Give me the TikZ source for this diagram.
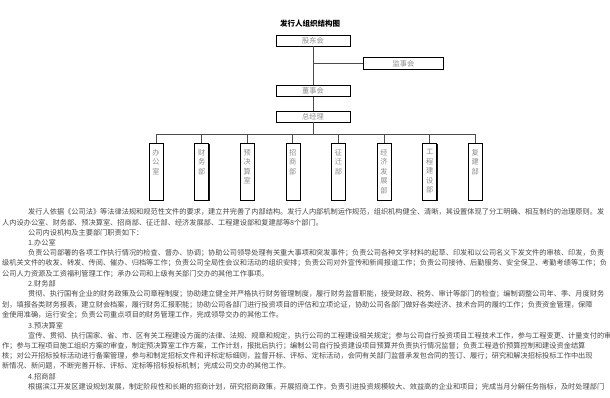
\documentclass[tikz,border=0pt]{standalone}
\usepackage{fontspec}
\setmainfont{Noto Sans CJK SC}
\usetikzlibrary{positioning, shadows}

\newcommand{\vlabel}[1]{\parbox[t][45pt][t]{8pt}{\centering\fontsize{7.2}{9.5}\selectfont #1}}

\begin{document}
\begin{tikzpicture}[x=1pt, y=-1pt,
    % Define styles
    orgbox/.style={rectangle, draw=black, line width=0.6pt, fill=white, drop shadow={shadow xshift=0.9pt, shadow yshift=-0.9pt, opacity=0.9, fill=black}, inner sep=0pt, font=\fontsize{7.2}{8}\selectfont, text=black!45},
    topbox/.style={orgbox, minimum width=74pt, minimum height=11pt},
    dept/.style={orgbox, minimum width=14pt, minimum height=57pt, anchor=north},
    link/.style={draw=black!70, line width=0.8pt},
    para/.style={anchor=west, inner sep=0pt, font=\fontsize{7.2}{8}\selectfont, text=black!72},
    ]
    \useasboundingbox (0,0) rectangle (610,398);
    \clip (0,0) rectangle (610,398);

    % Title
    \node[font=\fontsize{7.5}{8}\selectfont\bfseries] (title) at (310,23.5) {发行人组织结构图};

    % Top of the chart
    \node[topbox] (gdh) at (313,40.5) {股东会};
    \node[topbox, below=39pt of gdh] (dsh) {董事会};
    \node[topbox, below=14pt of dsh] (zjl) {总经理};
    \node[topbox, minimum width=80pt, minimum height=12pt] (jsh) at (403.5,63.5) {监事会};

    % Departments
    \node[dept] (bgs) at (156,143) {\vlabel{办\\公\\室}};
    \node[dept, right=31pt of bgs] (cwb) {\vlabel{财\\务\\部}};
    \node[dept, right=31pt of cwb] (ysj) {\vlabel{预\\决\\算\\室}};
    \node[dept, right=31pt of ysj] (zsb) {\vlabel{招\\商\\部}};
    \node[dept, right=31pt of zsb] (zqb) {\vlabel{征\\迁\\部}};
    \node[dept, right=31pt of zqb] (jjf) {\vlabel{经\\济\\发\\展\\部}};
    \node[dept, right=31pt of jjf] (gcj) {\vlabel{工\\程\\建\\设\\部}};
    \node[dept, right=31pt of gcj] (fjb) {\vlabel{复\\建\\部}};

    \coordinate (bus) at (313,134);

    % Connectors
    \draw[link] (gdh) -- (dsh);
    \draw[link] (dsh) -- (zjl);
    \draw[link] (jsh.west) -- (jsh.west -| gdh.south);
    \draw[link] (zjl) -- (bus);
    \draw[link] (bgs.north) -- (bgs.north |- bus) -- (fjb.north |- bus) -- (fjb.north);
    \draw[link] (cwb.north) -- (cwb.north |- bus);
    \draw[link] (ysj.north) -- (ysj.north |- bus);
    \draw[link] (zsb.north) -- (zsb.north |- bus);
    \draw[link] (zqb.north) -- (zqb.north |- bus);
    \draw[link] (jjf.north) -- (jjf.north |- bus);
    \draw[link] (gcj.north) -- (gcj.north |- bus);

    % Text below the chart
    \node[para] (p1) at (28,212) {发行人依据《公司法》等法律法规和规范性文件的要求，建立并完善了内部结构。发行人内部机制运作规范，组织机构健全、清晰，其设置体现了分工明确、相互制约的治理原则。发};
    \node[para] (p2) at (2,222.3) {人内设办公室、财务部、预决算室、招商部、征迁部、经济发展部、工程建设部和复建部等8个部门。};
    \node[para] (p3) at (28,232.6) {公司内设机构及主要部门职责如下：};
    \node[para] (p4) at (28,242.9) {1.办公室};
    \node[para] (p5) at (28,253.2) {负责公司部署的各项工作执行情况的检查、督办、协调；协助公司领导处理有关重大事项和突发事件；负责公司各种文字材料的起草、印发和以公司名义下发文件的审核、印发，负责};
    \node[para] (p6) at (2,263.5) {级机关文件的收发、转发、传阅、催办、归档等工作；负责公司全局性会议和活动的组织安排；负责公司对外宣传和新闻报道工作；负责公司接待、后勤服务、安全保卫、考勤考绩等工作；负};
    \node[para] (p7) at (2,273.8) {公司人力资源及工资福利管理工作；承办公司和上级有关部门交办的其他工作事项。};
    \node[para] (p8) at (28,284.1) {2.财务部};
    \node[para] (p9) at (28,294.4) {贯彻、执行国有企业的财务政策及公司章程制度；协助建立健全并严格执行财务管理制度，履行财务监督职能，接受财政、税务、审计等部门的检查；编制调整公司年、季、月度财务};
    \node[para] (p10) at (2,304.7) {划，填报各类财务报表，建立财会档案，履行财务汇报职能；协助公司各部门进行投资项目的评估和立项论证，协助公司各部门做好各类经济、技术合同的履约工作；负责资金管理，保障};
    \node[para] (p11) at (2,315) {金使用准确，运行安全；负责公司重点项目的财务管理工作，完成领导交办的其他工作。};
    \node[para] (p12) at (28,325.3) {3.预决算室};
    \node[para] (p13) at (28,335.6) {宣传、贯彻、执行国家、省、市、区有关工程建设方面的法律、法规、规章和规定，执行公司的工程建设相关规定；参与公司自行投资项目工程技术工作，参与工程变更、计量支付的审核};
    \node[para] (p14) at (2,345.9) {作；参与工程项目施工组织方案的审查，制定预决算室工作方案，工作计划，报批后执行；编制公司自行投资建设项目预算并负责执行情况监督；负责工程造价预算控制和建设资金结算};
    \node[para] (p15) at (2,356.2) {核；对公开招标投标活动进行备案管理，参与和制定招标文件和评标定标细则，监督开标、评标、定标活动，会同有关部门监督承发包合同的签订、履行；研究和解决招标投标工作中出现};
    \node[para] (p16) at (2,366.5) {新情况、新问题，不断完善开标、评标、定标等招标投标机制；完成公司交办的其他工作。};
    \node[para] (p17) at (28,376.8) {4.招商部};
    \node[para] (p18) at (28,387.1) {根据滨江开发区建设规划发展，制定阶段性和长期的招商计划，研究招商政策，开展招商工作，负责引进投资规模较大、效益高的企业和项目；完成当月分解任务指标，及时处理部门};

\end{tikzpicture}
\end{document}
